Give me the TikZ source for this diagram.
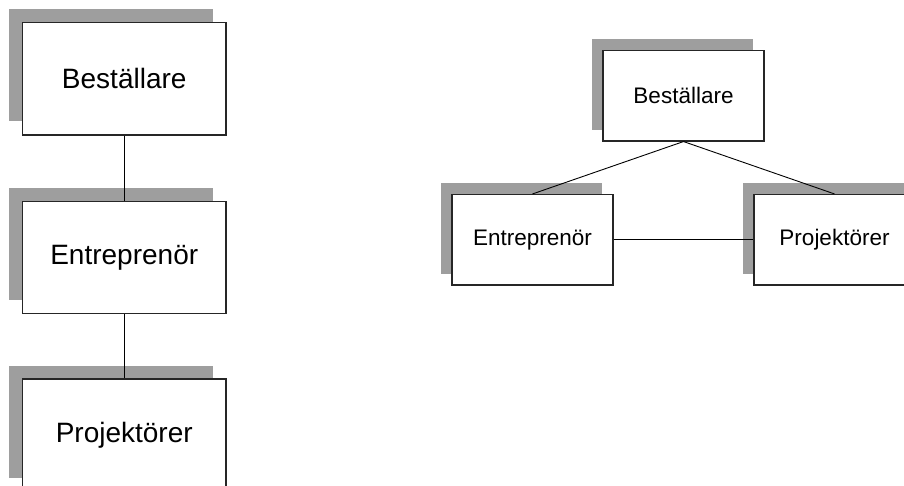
\documentclass[tikz,border=0pt]{standalone}
\usepackage{fontspec}
\setmainfont{Liberation Sans}
\usetikzlibrary{shadows}
\definecolor{shadowgray}{RGB}{158,158,158}
\begin{document}
\begin{tikzpicture}[x=1pt,y=-1pt,
  orgbox/.style={draw=black!85, line width=1.1pt, fill=white, inner sep=0pt},
  bigbox/.style={orgbox, minimum width=203.5pt, minimum height=112.5pt,
    font=\fontsize{28}{32}\selectfont,
    drop shadow={shadow xshift=-13.5pt, shadow yshift=13.5pt, fill=shadowgray, opacity=1}},
  smallbox/.style={orgbox, minimum width=161pt, minimum height=90.5pt,
    font=\fontsize{22.5}{26}\selectfont,
    drop shadow={shadow xshift=-11pt, shadow yshift=11pt, fill=shadowgray, opacity=1}},
  link/.style={draw=black, line width=0.9pt}
]
\useasboundingbox (0,0) rectangle (904,486);
\clip (0,0) rectangle (904,486);

% vertical chain
\node[bigbox] (lb) at (124.25,78.75) {Beställare};
\node[bigbox] (le) at (124.25,257.5) {Entreprenör};
\node[bigbox] (lp) at (124.25,435.25) {Projektörer};
\draw[link] (lb.south) -- (le.north);
\draw[link] (le.south) -- (lp.north);

% triangle
\node[smallbox] (rb) at (683.5,95.75) {Beställare};
\node[smallbox] (re) at (532.5,239.75) {Entreprenör};
\node[smallbox] (rp) at (834.5,239.75) {Projektörer};
\draw[link] (rb.south) -- (re.north);
\draw[link] (rb.south) -- (rp.north);
\draw[link] (re.east) -- (rp.west);
\end{tikzpicture}
\end{document}
